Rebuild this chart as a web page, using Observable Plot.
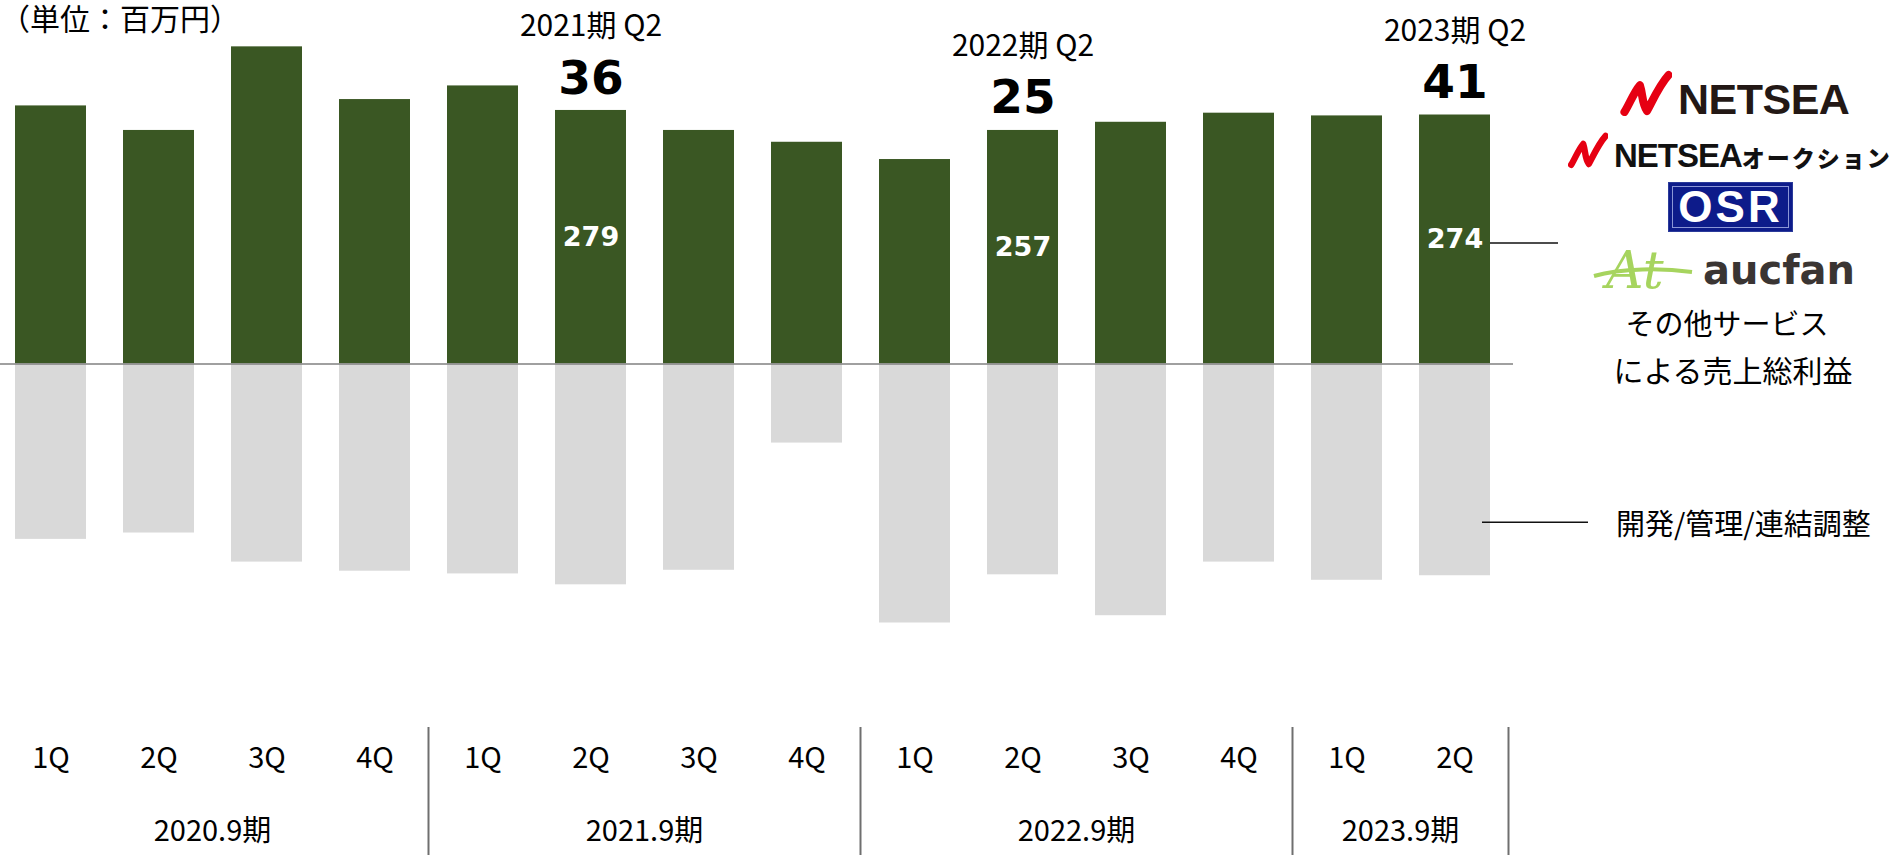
<!DOCTYPE html>
<html>
<head>
<meta charset="utf-8">
<script src="https://cdn.jsdelivr.net/npm/d3@7"></script>
<script src="https://cdn.jsdelivr.net/npm/@observablehq/plot@0.6"></script>
<style>
  body { margin: 0; background: #fff; }
  #wrap { position: relative; width: 1891px; height: 855px; overflow: hidden;
          font-family: "Noto Sans CJK JP", "Noto Sans", sans-serif; color: #000; }
  #wrap > svg { position: absolute; left: 0; top: 0; }
  .abs { position: absolute; white-space: nowrap; line-height: 1; }
</style>
</head>
<body>
<div id="wrap"></div>
<script>
// ---------------- data ----------------
const fiscalYears = ["2020.9期", "2021.9期", "2022.9期", "2023.9期"];
const quartersPerYear = [4, 4, 4, 2];
const quarterLabels = ["1Q", "2Q", "3Q", "4Q"];
// その他サービスによる売上総利益 (百万円)
const grossProfit = [284, 257, 349, 291, 306, 279, 257, 244, 225, 257, 266, 276, 273, 274];
// 開発/管理/連結調整 (百万円)
const devAdminCost = [-193, -186, -218, -228, -231, -243, -227, -87, -285, -232, -277, -218, -238, -233];
const highlightIndex = [5, 9, 13];
const highlightTitles = ["2021期 Q2", "2022期 Q2", "2023期 Q2"];
const highlightProfit = [36, 25, 41];
const unitLabel = "（単位：百万円）";
const legendUpper = ["その他サービス", "による売上総利益"];
const legendLower = "開発/管理/連結調整";

// ---------------- build table ----------------
const rows = [];
fiscalYears.forEach((fy, gi) => {
  quarterLabels.slice(0, quartersPerYear[gi]).forEach(q => {
    const i = rows.length;
    rows.push({ key: fy + " " + q, fy, q, gp: grossProfit[i], cost: devAdminCost[i] });
  });
});
const keys = rows.map(d => d.key);
const highlights = highlightIndex.map((idx, j) => ({
  key: keys[idx], gp: grossProfit[idx], title: highlightTitles[j], profit: highlightProfit[j]
}));

const FONT = '"Noto Sans CJK JP", "Noto Sans", sans-serif';
const NUMFONT = '"DejaVu Sans", "Noto Sans", sans-serif';
const W = 1891, H = 855, MB = 128, MR = 378;

const chart = Plot.plot({
  width: W, height: H,
  marginTop: 0, marginLeft: 0, marginRight: MR, marginBottom: MB,
  style: { fontFamily: FONT, background: "transparent", overflow: "visible" },
  x: { type: "band", domain: keys, paddingInner: 0.338, paddingOuter: 0.128, align: 0.39, axis: null },
  y: { domain: [-400, 400], axis: null },
  marks: [
    Plot.barY(rows, { x: "key", y: "gp", fill: "#3a5723" }),
    Plot.barY(rows, { x: "key", y: "cost", fill: "#d9d9d9" }),
    Plot.ruleY([0], { stroke: "#808080", strokeWidth: 1.6 }),
    Plot.text(highlights, { x: "key", y: d => d.gp / 2, text: d => String(d.gp),
      fill: "white", fontWeight: "bold", fontSize: 27, fontFamily: NUMFONT }),
    Plot.text(highlights, { x: "key", y: "gp", text: d => String(d.profit), dy: -32,
      fill: "black", fontWeight: "bold", fontSize: 47, fontFamily: NUMFONT }),
    Plot.text(highlights, { x: "key", y: "gp", text: "title", dy: -84,
      fill: "black", fontSize: 30 }),
    Plot.text(rows, { x: "key", text: "q", frameAnchor: "bottom", dy: 40,
      fill: "black", fontSize: 29 })
  ]
});

const wrap = document.getElementById("wrap");
wrap.appendChild(chart);

// ---------------- extras derived from the scales ----------------
const xs = chart.scale("x");
const ys = chart.scale("y");
const bw = xs.bandwidth, step = xs.step;
const gap = step - bw;
const svg = d3.select(chart);
const frameBottom = H - MB;
const g = svg.append("g");

let start = 0;
fiscalYears.forEach((fy, gi) => {
  const groupKeys = keys.slice(start, start + quartersPerYear[gi]);
  start += quartersPerYear[gi];
  const last = groupKeys[groupKeys.length - 1];
  const sepX = xs.apply(last) + bw + gap / 2;
  g.append("line").attr("x1", sepX).attr("x2", sepX)
    .attr("y1", frameBottom).attr("y2", H)
    .attr("stroke", "#6f6f6f").attr("stroke-width", 2);
  const cx = d3.mean(groupKeys, k => xs.apply(k) + bw / 2);
  g.append("text").attr("x", cx).attr("y", frameBottom + 105).attr("dy", "0.32em")
    .attr("text-anchor", "middle").attr("font-size", 29).attr("fill", "black")
    .text(fy);
});

// callout lines for the last quarter
const lastKey = keys[keys.length - 1];
const lastX = xs.apply(lastKey) + bw;
const lastGp = grossProfit[grossProfit.length - 1];
const lastCost = devAdminCost[devAdminCost.length - 1];
g.append("line").attr("x1", lastX).attr("x2", lastX + 68)
  .attr("y1", ys.apply(lastGp / 2) + 4).attr("y2", ys.apply(lastGp / 2) + 4)
  .attr("stroke", "#111").attr("stroke-width", 1.6);
const costLineY = ys.apply(lastCost * 0.75);
g.append("line").attr("x1", lastX - 8).attr("x2", lastX + 98)
  .attr("y1", costLineY).attr("y2", costLineY)
  .attr("stroke", "#111").attr("stroke-width", 1.6);

// ---------------- HTML overlay: unit label & legend ----------------
function addDiv(html, css) {
  const d = document.createElement("div");
  d.className = "abs";
  d.innerHTML = html;
  Object.assign(d.style, css);
  wrap.appendChild(d);
  return d;
}
addDiv(unitLabel, { left: "0px", top: "2px", fontSize: "30px" });

const swoosh = (w, h) => `<svg width="${w}" height="${h}" viewBox="0 0 50 45" style="display:block">
  <path d="M4 41 C9 33 13 22 19 15 C22 24 21 33 26 40 C32 29 38 15 47 5" fill="none"
        stroke="#e60012" stroke-width="8" stroke-linecap="round" stroke-linejoin="round"/></svg>`;

// NETSEA
addDiv(swoosh(52, 46), { left: "1620px", top: "70px" });
addDiv("NETSEA", { left: "1678px", top: "78px", fontFamily: '"Liberation Sans", Arial, sans-serif',
  fontWeight: "bold", fontSize: "43px", color: "#231815", letterSpacing: "-0.5px" });
// NETSEAオークション
addDiv(swoosh(40, 38), { left: "1568px", top: "131px" });
addDiv('NETSEA<span style="font-size:23px;letter-spacing:2px;font-family:\'Noto Sans CJK JP\';font-weight:900">オークション</span>',
  { left: "1614px", top: "139px", fontFamily: '"Liberation Sans", Arial, sans-serif',
    fontWeight: "bold", fontSize: "33px", color: "#111", letterSpacing: "-1px" });
// OSR
addDiv('<div style="width:123px;height:48px;border:1px solid #2a3a9a;background:#0d1b8a;box-shadow: inset 0 0 0 3px #0d1b8a, inset 0 0 0 4px #8b96d6;display:flex;align-items:center;justify-content:center;color:#fff;font-family:\'Liberation Sans\',Arial,sans-serif;font-weight:bold;font-size:44px;letter-spacing:3px;">OSR</div>',
  { left: "1668px", top: "182px" });
// aucfan
addDiv(`<svg width="112" height="60" viewBox="0 0 112 60" style="display:block;overflow:visible">
  <text x="14" y="46" font-family="DejaVu Serif, serif" font-style="italic" font-size="52" fill="#a6d45e">At</text>
  <path d="M2 34 C30 26 70 26 100 30" fill="none" stroke="#a6d45e" stroke-width="4"/></svg>`,
  { left: "1592px", top: "242px" });
addDiv("aucfan", { left: "1703px", top: "250px", fontFamily: '"DejaVu Sans", sans-serif',
  fontWeight: "bold", fontSize: "40px", color: "#3a3533" });

addDiv(legendUpper[0], { left: "1727px", top: "308px", fontSize: "29px", transform: "translateX(-50%)" });
addDiv(legendUpper[1], { left: "1733px", top: "354px", fontSize: "30px", transform: "translateX(-50%)" });
addDiv(legendLower, { left: "1616px", top: "508px", fontSize: "29px" });
</script>
</body>
</html>
